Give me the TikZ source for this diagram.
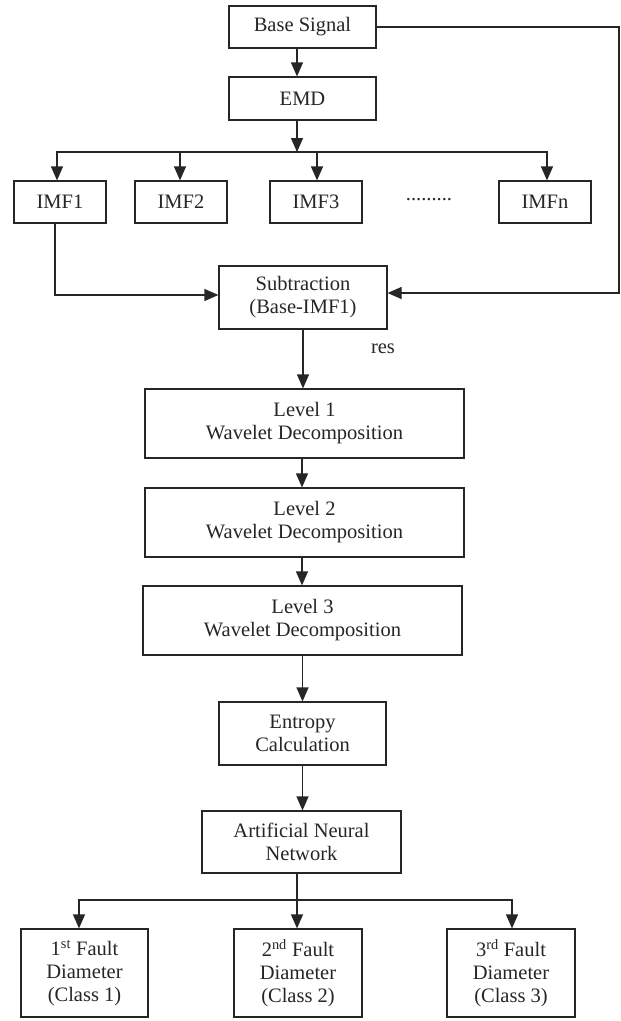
\documentclass[tikz,border=0pt]{standalone}
\usepackage{fontspec}
\setmainfont{Liberation Serif}
\usetikzlibrary{arrows.meta}
\begin{document}
\begin{tikzpicture}[x=1pt,y=1pt,
  box/.style={draw=black!85, line width=1.2pt, inner sep=0pt, align=center,
    font=\fontsize{20.5}{23}\selectfont, text=black!85},
  ln/.style={draw=black!85, line width=1.2pt},
  arr/.style={ln, -{Triangle[length=14pt,width=12pt]}}]
\useasboundingbox[fill=white] (0,0) rectangle (621,-1021);
% nodes
\node[box, minimum width=147, minimum height=42] (base) at (302.5,-27) {Base Signal};
\node[box, minimum width=147, minimum height=43] (emd) at (302.5,-98.5) {EMD};
\node[box, minimum width=92, minimum height=42] (imf1) at (60,-202) {IMF1};
\node[box, minimum width=92, minimum height=42] (imf2) at (181,-202) {IMF2};
\node[box, minimum width=92, minimum height=42] (imf3) at (316,-202) {IMF3};
\node[box, minimum width=92, minimum height=42] (imfn) at (545,-202) {IMFn};
\node[font=\fontsize{20.5}{23}\selectfont, text=black!85] (dots) at (429,-200) {.........};
\node[box, minimum width=168, minimum height=63] (sub) at (303,-297.5) {Subtraction\\(Base-IMF1)};
\node[font=\fontsize{20.5}{23}\selectfont, text=black!85] (res) at (383,-349) {res};
\node[box, minimum width=319, minimum height=69] (l1) at (304.5,-423.5) {Level 1\\Wavelet Decomposition};
\node[box, minimum width=319, minimum height=69] (l2) at (304.5,-522.5) {Level 2\\Wavelet Decomposition};
\node[box, minimum width=319, minimum height=69] (l3) at (302.5,-620.5) {Level 3\\Wavelet Decomposition};
\node[box, minimum width=167, minimum height=63] (ent) at (302.5,-733.5) {Entropy\\Calculation};
\node[box, minimum width=199, minimum height=62] (ann) at (301.5,-842) {Artificial Neural\\Network};
\node[box, minimum width=127, minimum height=88] (c1) at (84.5,-973) {1\textsuperscript{st} Fault\\Diameter\\(Class 1)};
\node[box, minimum width=128, minimum height=88] (c2) at (298,-973) {2\textsuperscript{nd} Fault\\Diameter\\(Class 2)};
\node[box, minimum width=128, minimum height=88] (c3) at (511,-973) {3\textsuperscript{rd} Fault\\Diameter\\(Class 3)};
% coordinates
\coordinate (bus1) at (297,-152);
\coordinate (right) at (619,-27);
\coordinate (bus2) at (297,-900);
% connectors
\draw[arr] ([xshift=-5.5]base.south) -- ([xshift=-5.5]emd.north);
\draw[arr] ([xshift=-5.5]emd.south) -- (bus1);
\draw[arr] (bus1) -| ([xshift=-3]imf1.north);
\draw[arr] (bus1) -| ([xshift=-1]imf2.north);
\draw[arr] (bus1) -| ([xshift=1]imf3.north);
\draw[arr] (bus1) -| ([xshift=2]imfn.north);
\draw[arr] (base.east) -- (right) |- ([yshift=4.5]sub.east);
\draw[arr] ([xshift=-5]imf1.south) |- ([yshift=2.5]sub.west);
\draw[arr] (sub.south) -- (sub.south |- l1.north);
\draw[arr] ([xshift=-2.5]l1.south) -- ([xshift=-2.5]l2.north);
\draw[arr] ([xshift=-2.5]l2.south) -- ([xshift=-0.5]l3.north);
\draw[arr] (l3.south) -- (ent.north);
\draw[arr] (ent.south) -- ([xshift=1]ann.north);
\draw[ln] ([xshift=-4.5]ann.south) -- (bus2);
\draw[arr] (bus2) -| ([xshift=-5.5]c1.north);
\draw[arr] (bus2) -- (bus2 |- c2.north);
\draw[arr] (bus2) -| ([xshift=1]c3.north);
\end{tikzpicture}
\end{document}
